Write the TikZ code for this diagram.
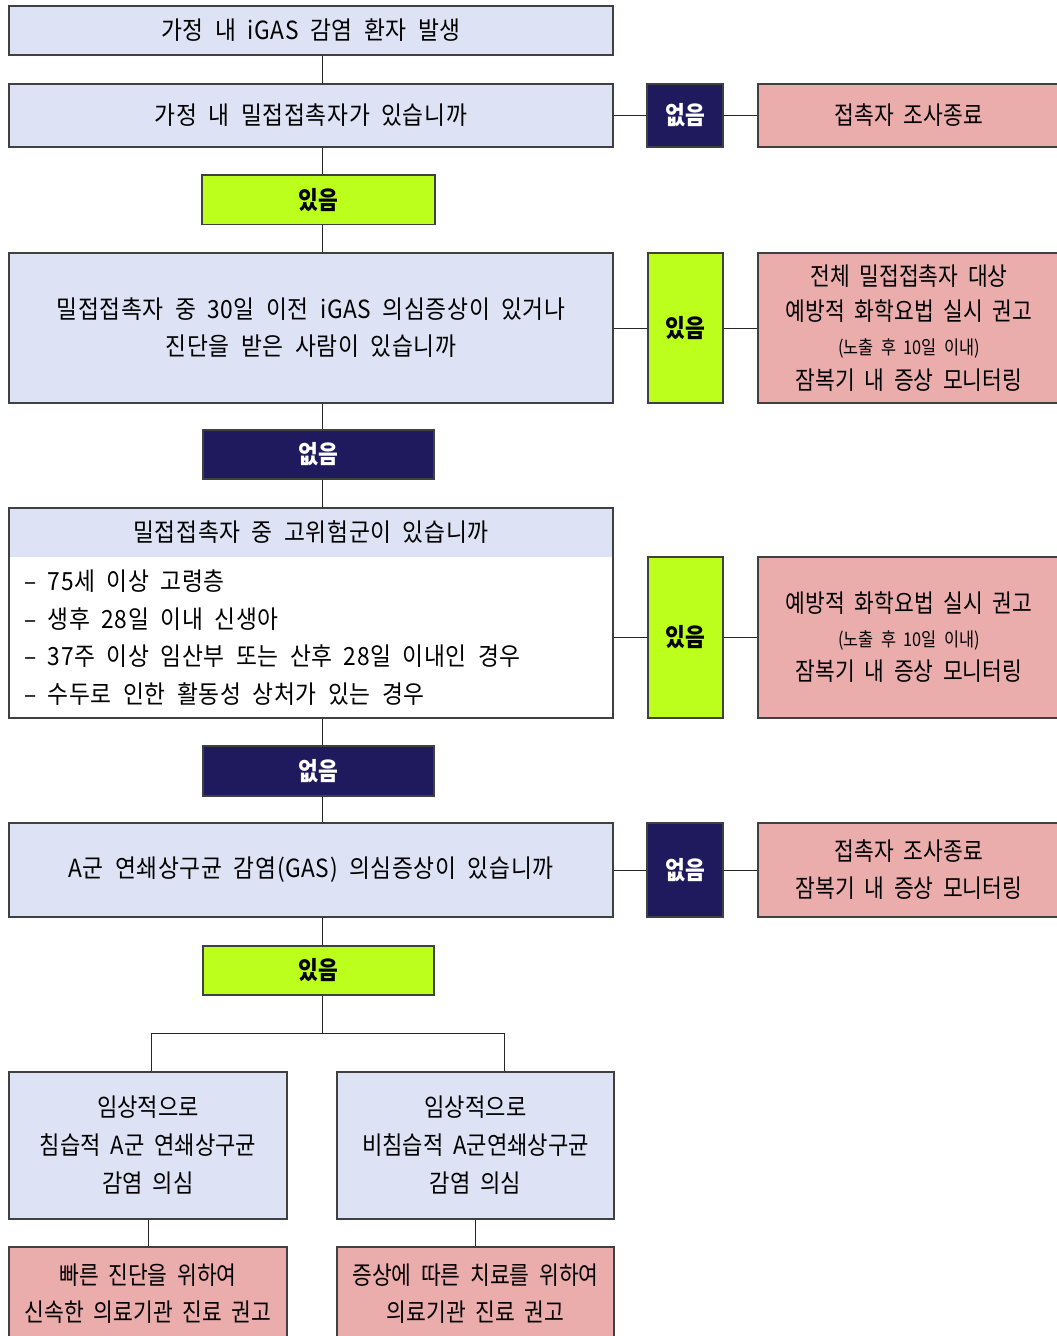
\documentclass[tikz,border=0pt]{standalone}
\usepackage{fontspec}
\setmainfont{Noto Sans CJK KR}[FakeStretch=0.86,WordSpace=2]
\newfontfamily\bigfont{Noto Sans CJK KR}[FakeStretch=0.91,WordSpace=2,LetterSpace=2.5]
\newfontfamily\midfont{Noto Sans CJK KR}[FakeStretch=0.885,WordSpace=2]
\definecolor{lblue}{RGB}{221,227,245}
\definecolor{lpink}{RGB}{235,172,172}
\definecolor{lgreen}{RGB}{188,255,28}
\definecolor{navy}{RGB}{31,26,94}
\definecolor{linec}{RGB}{64,64,64}
\tikzset{
  box/.style={draw=linec, line width=1.2pt, inner sep=0pt, align=center,
    font=\fontsize{25}{37}\selectfont},
  bluebox/.style={box, fill=lblue, font=\bigfont\fontsize{25}{37}\selectfont},
  pinkbox/.style={box, fill=lpink},
  lblyes/.style={box, fill=lgreen, font=\fontsize{25}{30}\bfseries\selectfont},
  lblno/.style={box, fill=navy, text=white, font=\fontsize{25}{30}\bfseries\selectfont},
  conn/.style={draw=black!85, line width=1pt}
}
\begin{document}
\begin{tikzpicture}[x=1pt,y=-1pt]
\useasboundingbox (0,0) rectangle (1057,1336);
\coordinate (cx) at (322,0);
% row 1
\node[bluebox, minimum width=604, minimum height=49] (b1) at (311,30.5) {가정 내 iGAS 감염 환자 발생};
% row 2
\node[bluebox, minimum width=604, minimum height=63] (b2) at (311,115.5) {가정 내 밀접접촉자가 있습니까};
\node[lblno, minimum width=76, minimum height=63] (n1) at (685,115.5) {없음};
\node[pinkbox, minimum width=302, minimum height=63] (p1) at (909,115.5) {접촉자 조사종료};
\node[lblyes, minimum width=233, minimum height=49.5] (g1) at (318.5,199.75) {있음};
% row 3
\node[bluebox, minimum width=604, minimum height=150] (b3) at (311,328) {밀접접촉자 중 30일 이전 iGAS 의심증상이 있거나\\진단을 받은 사람이 있습니까};
\node[lblyes, minimum width=75, minimum height=150] (g2) at (685.5,328) {있음};
\node[pinkbox, minimum width=302, minimum height=150, font=\fontsize{25}{34.5}\selectfont] (p2) at (909,328) {전체 밀접접촉자 대상\\예방적 화학요법 실시 권고\\{\fontsize{19}{22}\selectfont (노출 후 10일 이내)}\\잠복기 내 증상 모니터링};
\node[lblno, minimum width=231, minimum height=49] (n2) at (318.5,454.5) {없음};
% row 4
\fill[lblue] (9,508) rectangle (613,557);
\node[box, minimum width=604, minimum height=210] (b4) at (311,613) {};
\node[font=\bigfont\fontsize{25}{37}\selectfont, inner sep=0pt] (b4h) at (311,532.5) {밀접접촉자 중 고위험군이 있습니까};
\node[font=\bigfont\fontsize{25}{37.7}\selectfont, inner sep=0pt, align=left, anchor=west] (b4l) at (24,637.5) {– 75세 이상 고령층\\– 생후 28일 이내 신생아\\– 37주 이상 임산부 또는 산후 28일 이내인 경우\\– 수두로 인한 활동성 상처가 있는 경우};
\node[lblyes, minimum width=75, minimum height=161] (g3) at (685.5,637.5) {있음};
\node[pinkbox, minimum width=302, minimum height=161, font=\fontsize{25}{34}\selectfont] (p3) at (909,637.5) {예방적 화학요법 실시 권고\\{\fontsize{19}{22}\selectfont (노출 후 10일 이내)}\\잠복기 내 증상 모니터링};
\node[lblno, minimum width=231, minimum height=50] (n3) at (318.5,771) {없음};
% row 5
\node[bluebox, minimum width=604, minimum height=94] (b5) at (311,870) {A군 연쇄상구균 감염(GAS) 의심증상이 있습니까};
\node[lblno, minimum width=76, minimum height=94] (n4) at (685,870) {없음};
\node[pinkbox, minimum width=302, minimum height=94] (p4) at (909,870) {접촉자 조사종료\\잠복기 내 증상 모니터링};
\node[lblyes, minimum width=231, minimum height=49] (g4) at (318.5,970.5) {있음};
% row 6
\node[bluebox, minimum width=278, minimum height=147, font=\midfont\fontsize{25}{38}\selectfont] (b6) at (148,1145.5) {임상적으로\\침습적 A군 연쇄상구균\\감염 의심};
\node[bluebox, minimum width=277, minimum height=147, font=\midfont\fontsize{25}{38}\selectfont] (b7) at (475.5,1145.5) {임상적으로\\비침습적 A군연쇄상구균\\감염 의심};
\node[pinkbox, minimum width=278, minimum height=93] (p5) at (148,1293.5) {빠른 진단을 위하여\\신속한 의료기관 진료 권고};
\node[pinkbox, minimum width=277, minimum height=93] (p6) at (475.5,1293.5) {증상에 따른 치료를 위하여\\의료기관 진료 권고};
% connectors
\draw[conn] (b1.south -| cx) -- (b2.north -| cx);
\draw[conn] (b2.south -| cx) -- (g1.north -| cx);
\draw[conn] (g1.south -| cx) -- (b3.north -| cx);
\draw[conn] (b3.south -| cx) -- (n2.north -| cx);
\draw[conn] (n2.south -| cx) -- (b4.north -| cx);
\draw[conn] (b4.south -| cx) -- (n3.north -| cx);
\draw[conn] (n3.south -| cx) -- (b5.north -| cx);
\draw[conn] (b5.south -| cx) -- (g4.north -| cx);
\draw[conn] (b2.east) -- (n1.west);
\draw[conn] (n1.east) -- (p1.west);
\draw[conn] (b3.east) -- (g2.west);
\draw[conn] (g2.east) -- (p2.west);
\draw[conn] (g3.west -| b4.east) -- (g3.west);
\draw[conn] (g3.east) -- (p3.west);
\draw[conn] (b5.east) -- (n4.west);
\draw[conn] (n4.east) -- (p4.west);
\coordinate (bj) at (322,1033);
\coordinate (bl) at (151,1033);
\coordinate (br) at (504,1033);
\draw[conn] (g4.south -| cx) -- (bj);
\draw[conn] (bl) -- (br);
\draw[conn] (bl) -- (b6.north -| bl);
\draw[conn] (br) -- (b7.north -| br);
\draw[conn] (b6.south) -- (p5.north);
\draw[conn] (b7.south) -- (p6.north);
\end{tikzpicture}
\end{document}
